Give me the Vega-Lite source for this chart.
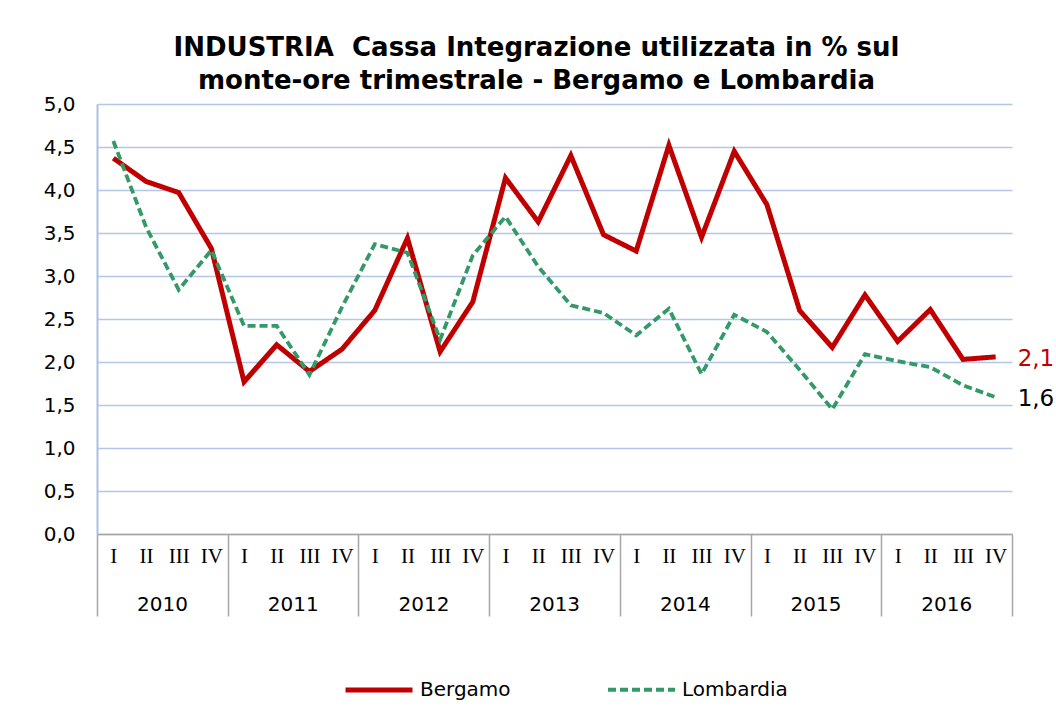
{
  "$schema": "https://vega.github.io/schema/vega-lite/v6.json",
  "width": 915,
  "height": 430,
  "autosize": {"type": "none"},
  "padding": {"left": 97, "top": 104, "right": 44, "bottom": 182},
  "background": "white",
  "config": {
    "locale": {"number": {"decimal": ",", "thousands": ".", "grouping": [3], "currency": ["€", ""]}},
    "view": {"stroke": null},
    "font": "DejaVu Sans"
  },
  "title": {
    "text": ["INDUSTRIA\u00a0\u00a0Cassa Integrazione utilizzata in % sul", "monte-ore trimestrale - Bergamo e Lombardia"],
    "font": "DejaVu Sans",
    "fontSize": 26,
    "fontWeight": "bold",
    "color": "#000000",
    "anchor": "middle",
    "dx": -18,
    "lineHeight": 33,
    "offset": 0
  },
  "data": {
    "values": [
      {"year": 2010, "quarter": "I", "idx": 0, "series": "Bergamo", "value": 4.37},
      {"year": 2010, "quarter": "II", "idx": 1, "series": "Bergamo", "value": 4.10},
      {"year": 2010, "quarter": "III", "idx": 2, "series": "Bergamo", "value": 3.97},
      {"year": 2010, "quarter": "IV", "idx": 3, "series": "Bergamo", "value": 3.32},
      {"year": 2011, "quarter": "I", "idx": 4, "series": "Bergamo", "value": 1.77},
      {"year": 2011, "quarter": "II", "idx": 5, "series": "Bergamo", "value": 2.20},
      {"year": 2011, "quarter": "III", "idx": 6, "series": "Bergamo", "value": 1.89},
      {"year": 2011, "quarter": "IV", "idx": 7, "series": "Bergamo", "value": 2.15},
      {"year": 2012, "quarter": "I", "idx": 8, "series": "Bergamo", "value": 2.60},
      {"year": 2012, "quarter": "II", "idx": 9, "series": "Bergamo", "value": 3.44},
      {"year": 2012, "quarter": "III", "idx": 10, "series": "Bergamo", "value": 2.12},
      {"year": 2012, "quarter": "IV", "idx": 11, "series": "Bergamo", "value": 2.70},
      {"year": 2013, "quarter": "I", "idx": 12, "series": "Bergamo", "value": 4.14},
      {"year": 2013, "quarter": "II", "idx": 13, "series": "Bergamo", "value": 3.63},
      {"year": 2013, "quarter": "III", "idx": 14, "series": "Bergamo", "value": 4.40},
      {"year": 2013, "quarter": "IV", "idx": 15, "series": "Bergamo", "value": 3.48},
      {"year": 2014, "quarter": "I", "idx": 16, "series": "Bergamo", "value": 3.29},
      {"year": 2014, "quarter": "II", "idx": 17, "series": "Bergamo", "value": 4.52},
      {"year": 2014, "quarter": "III", "idx": 18, "series": "Bergamo", "value": 3.45},
      {"year": 2014, "quarter": "IV", "idx": 19, "series": "Bergamo", "value": 4.45},
      {"year": 2015, "quarter": "I", "idx": 20, "series": "Bergamo", "value": 3.83},
      {"year": 2015, "quarter": "II", "idx": 21, "series": "Bergamo", "value": 2.60},
      {"year": 2015, "quarter": "III", "idx": 22, "series": "Bergamo", "value": 2.17},
      {"year": 2015, "quarter": "IV", "idx": 23, "series": "Bergamo", "value": 2.78},
      {"year": 2016, "quarter": "I", "idx": 24, "series": "Bergamo", "value": 2.24},
      {"year": 2016, "quarter": "II", "idx": 25, "series": "Bergamo", "value": 2.61},
      {"year": 2016, "quarter": "III", "idx": 26, "series": "Bergamo", "value": 2.03},
      {"year": 2016, "quarter": "IV", "idx": 27, "series": "Bergamo", "value": 2.06},
      {"year": 2010, "quarter": "I", "idx": 0, "series": "Lombardia", "value": 4.57},
      {"year": 2010, "quarter": "II", "idx": 1, "series": "Lombardia", "value": 3.57},
      {"year": 2010, "quarter": "III", "idx": 2, "series": "Lombardia", "value": 2.84},
      {"year": 2010, "quarter": "IV", "idx": 3, "series": "Lombardia", "value": 3.30},
      {"year": 2011, "quarter": "I", "idx": 4, "series": "Lombardia", "value": 2.42},
      {"year": 2011, "quarter": "II", "idx": 5, "series": "Lombardia", "value": 2.42},
      {"year": 2011, "quarter": "III", "idx": 6, "series": "Lombardia", "value": 1.85},
      {"year": 2011, "quarter": "IV", "idx": 7, "series": "Lombardia", "value": 2.64},
      {"year": 2012, "quarter": "I", "idx": 8, "series": "Lombardia", "value": 3.37},
      {"year": 2012, "quarter": "II", "idx": 9, "series": "Lombardia", "value": 3.27},
      {"year": 2012, "quarter": "III", "idx": 10, "series": "Lombardia", "value": 2.26},
      {"year": 2012, "quarter": "IV", "idx": 11, "series": "Lombardia", "value": 3.24},
      {"year": 2013, "quarter": "I", "idx": 12, "series": "Lombardia", "value": 3.69},
      {"year": 2013, "quarter": "II", "idx": 13, "series": "Lombardia", "value": 3.11},
      {"year": 2013, "quarter": "III", "idx": 14, "series": "Lombardia", "value": 2.66},
      {"year": 2013, "quarter": "IV", "idx": 15, "series": "Lombardia", "value": 2.57},
      {"year": 2014, "quarter": "I", "idx": 16, "series": "Lombardia", "value": 2.31},
      {"year": 2014, "quarter": "II", "idx": 17, "series": "Lombardia", "value": 2.62},
      {"year": 2014, "quarter": "III", "idx": 18, "series": "Lombardia", "value": 1.86},
      {"year": 2014, "quarter": "IV", "idx": 19, "series": "Lombardia", "value": 2.55},
      {"year": 2015, "quarter": "I", "idx": 20, "series": "Lombardia", "value": 2.35},
      {"year": 2015, "quarter": "II", "idx": 21, "series": "Lombardia", "value": 1.91},
      {"year": 2015, "quarter": "III", "idx": 22, "series": "Lombardia", "value": 1.45},
      {"year": 2015, "quarter": "IV", "idx": 23, "series": "Lombardia", "value": 2.09},
      {"year": 2016, "quarter": "I", "idx": 24, "series": "Lombardia", "value": 2.01},
      {"year": 2016, "quarter": "II", "idx": 25, "series": "Lombardia", "value": 1.94},
      {"year": 2016, "quarter": "III", "idx": 26, "series": "Lombardia", "value": 1.73},
      {"year": 2016, "quarter": "IV", "idx": 27, "series": "Lombardia", "value": 1.59}
    ]
  },
  "resolve": {"axis": {"x": "independent"}},
  "layer": [
    {
      "mark": {"type": "line", "strokeCap": "butt", "strokeJoin": "miter"},
      "encoding": {
        "x": {
          "field": "idx",
          "type": "quantitative",
          "scale": {"domain": [-0.5, 27.5], "nice": false, "zero": false},
          "axis": {
            "orient": "bottom",
            "title": null,
            "values": [0,1,2,3,4,5,6,7,8,9,10,11,12,13,14,15,16,17,18,19,20,21,22,23,24,25,26,27],
            "labelExpr": "['I','II','III','IV'][datum.value % 4]",
            "labelFont": "Liberation Serif",
            "labelFontSize": 21,
            "labelColor": "#000000",
            "labelPadding": 11,
            "labelOverlap": false,
            "labelFlush": false,
            "labelBound": false,
            "ticks": false,
            "grid": false,
            "domain": true,
            "domainColor": "#A6A6A6",
            "domainWidth": 1.5
          }
        },
        "y": {
          "field": "value",
          "type": "quantitative",
          "scale": {"domain": [0, 5], "nice": false},
          "axis": {
            "title": null,
            "values": [0, 0.5, 1, 1.5, 2, 2.5, 3, 3.5, 4, 4.5, 5],
            "format": ".1f",
            "labelFont": "DejaVu Sans",
            "labelFontSize": 20,
            "labelColor": "#000000",
            "labelPadding": 22,
            "ticks": false,
            "grid": true,
            "gridColor": "#B4C7E7",
            "gridWidth": 1.5,
            "domain": true,
            "domainColor": "#A9BFE6",
            "domainWidth": 2
          }
        },
        "color": {
          "field": "series",
          "type": "nominal",
          "scale": {"domain": ["Bergamo", "Lombardia"], "range": ["#C00000", "#339966"]},
          "legend": {
            "title": null,
            "orient": "none",
            "legendX": 246,
            "legendY": 550,
            "direction": "horizontal",
            "symbolType": "stroke",
            "symbolSize": 4489,
            "labelFont": "DejaVu Sans",
            "labelFontSize": 20,
            "labelColor": "#000000",
            "labelOffset": 5,
            "columnPadding": 89
          }
        },
        "strokeDash": {
          "field": "series",
          "type": "nominal",
          "scale": {"domain": ["Bergamo", "Lombardia"], "range": [[1, 0], [8, 4]]},
          "legend": null
        },
        "strokeWidth": {
          "field": "series",
          "type": "nominal",
          "scale": {"domain": ["Bergamo", "Lombardia"], "range": [5, 3.8]},
          "legend": null
        }
      }
    },
    {
      "transform": [{"filter": "datum.idx == 27"}],
      "mark": {"type": "text", "align": "left", "baseline": "middle", "dx": 22, "dy": 2, "fontSize": 23, "font": "DejaVu Sans"},
      "encoding": {
        "x": {
          "field": "idx",
          "type": "quantitative",
          "scale": {"domain": [-0.5, 27.5], "nice": false, "zero": false},
          "axis": {
            "orient": "bottom",
            "title": null,
            "values": [-0.5, 3.5, 7.5, 11.5, 15.5, 19.5, 23.5, 27.5],
            "labelExpr": "datum.value < 27 ? '' + (2010 + (datum.value + 0.5) / 4) : ''",
            "labelFont": "DejaVu Sans",
            "labelFontSize": 20,
            "labelColor": "#000000",
            "labelOffset": 65,
            "labelPadding": -22,
            "labelAlign": "center",
            "labelOverlap": false,
            "labelFlush": false,
            "labelBound": false,
            "ticks": true,
            "tickSize": 82,
            "tickColor": "#A6A6A6",
            "tickWidth": 1.5,
            "grid": false,
            "domain": false
          }
        },
        "y": {"field": "value", "type": "quantitative"},
        "text": {"field": "value", "type": "quantitative", "format": ".1f"},
        "color": {
          "condition": {"test": "datum.series === 'Bergamo'", "value": "#C00000"},
          "value": "#000000"
        }
      }
    }
  ]
}
